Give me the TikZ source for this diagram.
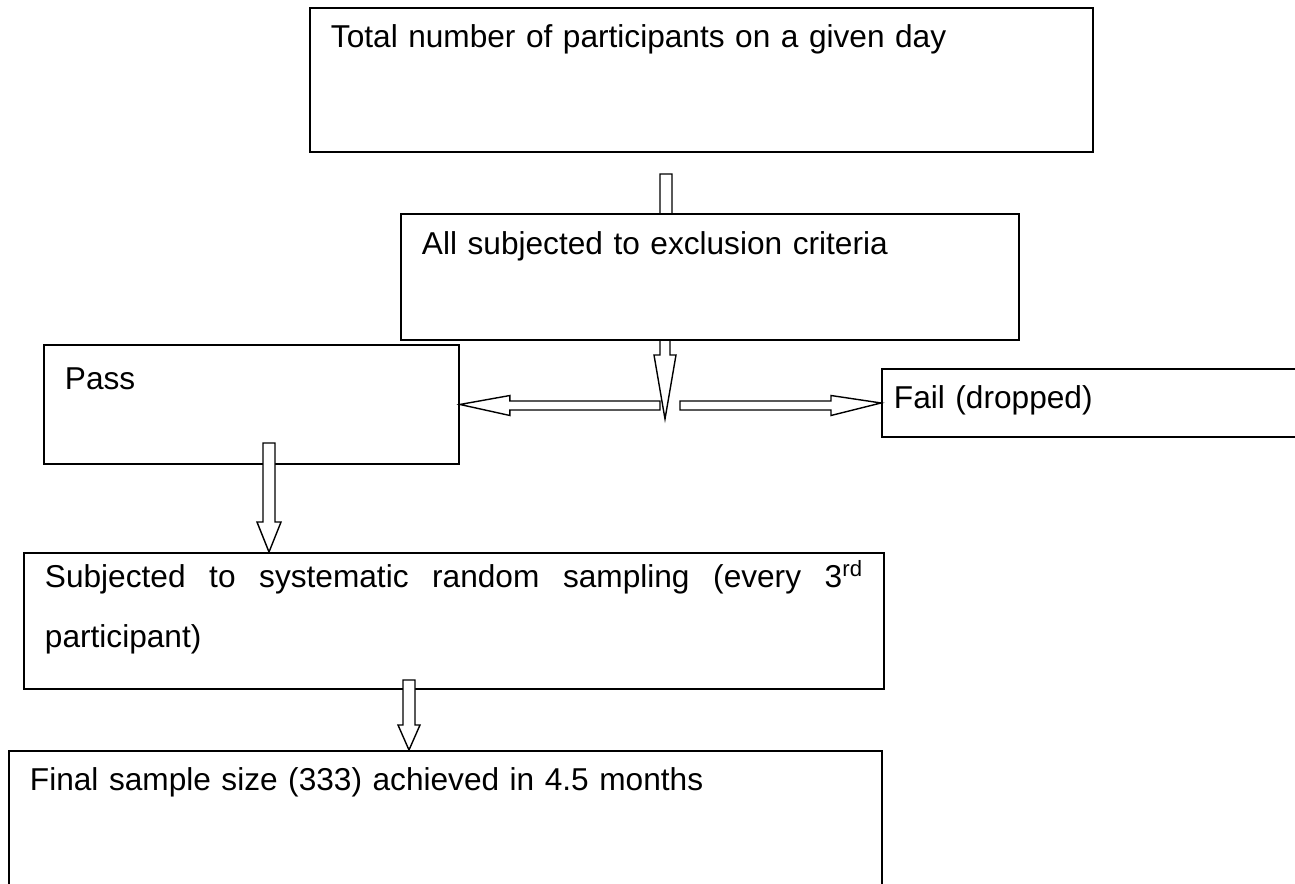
\documentclass[tikz,border=0pt]{standalone}
\usepackage{fontspec}
\setmainfont{Liberation Sans}
\usetikzlibrary{backgrounds,calc}
\hyphenpenalty=10000
\newdimen\px
\px=0.02cm
\newcommand{\vblock}[5]{\draw [blk] let \p1 = (#1), \p2 = (#2) in
  (\x1-#3\px,\y1) -- (\x1-#3\px,\y2+#5\px) -- (\x1-#4\px,\y2+#5\px) -- (\x2,\y2)
  -- (\x1+#4\px,\y2+#5\px) -- (\x1+#3\px,\y2+#5\px) -- (\x1+#3\px,\y1) -- cycle;}
\newcommand{\hblock}[5]{\draw [blk] let \p1 = (#1), \p2 = (#2) in
  (\x1,\y1-#3\px) -- (\x2+#5\px,\y1-#3\px) -- (\x2+#5\px,\y1-#4\px) -- (\x2,\y2)
  -- (\x2+#5\px,\y1+#4\px) -- (\x2+#5\px,\y1+#3\px) -- (\x1,\y1+#3\px) -- cycle;}

\begin{document}
\begin{tikzpicture}[x = 0.02cm, y = -0.02cm,
  box/.style = {draw, line width = 1.1pt, fill = white, anchor = north west, align = left,
    inner xsep = 21\px, inner ysep = 0pt, font = \fontsize{18}{34}\selectfont},
  blk/.style = {draw, line width = 0.8pt, fill = white}]
\useasboundingbox (0,0) rectangle (1295,883);

\node [box, text width = 741\px, text height = 40\px, text depth = 104\px] (total) at (309,7) {Total number of participants on a given day};
\node [box, text width = 576\px, text height = 41\px, text depth = 85\px] (excl) at (400,213) {All subjected to exclusion criteria};
\node [box, text width = 373\px, text height = 45\px, text depth = 74\px] (pass) at (43,344) {Pass};
\node [box, inner xsep = 12\px, text width = 395\px, text height = 40\px, text depth = 28\px] (fail) at (881,368) {Fail (dropped)};
\node [box, align = justify, text width = 818\px, text height = 35\px, text depth = 101\px] (sampling) at (23,552) {Subjected to systematic random sampling (every 3\textsuperscript{rd} participant)};
\node [box, text width = 831\px, text height = 40\px, text depth = 120\px] (final) at (8,750) {Final sample size (333) achieved in 4.5 months};

\coordinate (t1) at (666,174);
\coordinate (t2) at (666,300);
\coordinate (s1) at (665,330);
\coordinate (split) at (665,419);
\coordinate (sl) at (660,405.5);
\coordinate (sr) at (680,405.5);
\coordinate (p1) at (269,443);
\coordinate (f1) at (409,680);

% arrows hidden behind the boxes
\begin{scope}[on background layer]
\vblock{t1}{t2}{6}{12}{30}
\vblock{s1}{split}{5}{11}{64}
\end{scope}

\hblock{sl}{pass.east}{4.5}{10}{50}
\hblock{sr}{fail.west}{4.5}{10}{-50}
\vblock{p1}{p1 |- sampling.north}{6}{12}{30}
\vblock{f1}{f1 |- final.north}{6}{11}{25}
\end{tikzpicture}
\end{document}
